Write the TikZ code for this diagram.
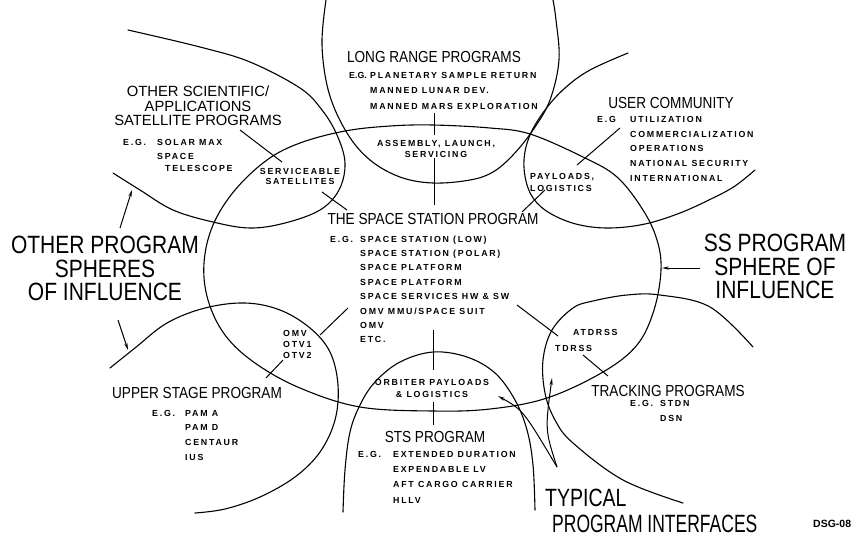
\documentclass[tikz,border=0pt]{standalone}
\usepackage{fontspec}
\setmainfont{Liberation Sans}
\newfontfamily\hvA[FakeStretch=0.85]{Liberation Sans}
\newfontfamily\hvB[FakeStretch=0.84]{Liberation Sans}
\newfontfamily\hvC[FakeStretch=0.70]{Liberation Sans}
\newfontfamily\hvD[FakeStretch=0.78]{Liberation Sans}
\newfontfamily\smf[LetterSpace=20]{Liberation Sans}
\usetikzlibrary{arrows.meta}
\tikzset{
  curve/.style={line width=1.1pt, line cap=round},
  tickline/.style={line width=1pt},
  arr/.style={line width=1pt, -{Stealth[length=7pt,width=3.2pt]}},
  head/.style={font=\hvA\fontsize{16}{16}\selectfont, inner sep=0pt, anchor=base},
  midtxt/.style={font=\fontsize{14.8}{14.5}\selectfont, inner sep=0pt, align=center, anchor=north},
  hugetxt/.style={font=\hvB\fontsize{25}{23.5}\selectfont, inner sep=0pt, align=center, anchor=north},
  sm/.style={font=\smf\bfseries\fontsize{8.8}{#1}\selectfont, inner sep=0pt, align=left, anchor=north west},
  sm/.default=14.6,
  smc/.style={font=\smf\bfseries\fontsize{8.8}{#1}\selectfont, inner sep=0pt, align=center, anchor=north},
  smc/.default=11.5,
  eg/.style={font=\smf\bfseries\fontsize{8.8}{10}\selectfont, inner sep=0pt, anchor=base west},
  egtight/.style={font=\bfseries\fontsize{8.8}{10}\selectfont, inner sep=0pt, anchor=base west},
}
\begin{document}
\begin{tikzpicture}[x=1pt,y=-1pt]
\useasboundingbox (0,0) rectangle (860,539);

% ---------- spheres of influence ----------
% Space Station program (central ellipse)
\draw[curve] plot[smooth cycle, tension=0.6] coordinates {(433,125) (490,128) (530,134) (583,157) (617,177) (643,210) (657,240) (661,270) (654,310) (637,345) (603,372) (547,398) (490,409) (433,411) (360,407) (300,388) (255,363) (225,335) (208,300) (204,263) (213,225) (235,190) (267,160) (300,143) (345,131) (390,126)};
% Long range programs
\draw[curve] plot[smooth, tension=0.6] coordinates {(326,0) (322,45) (329,93) (347,133) (370,160) (400,177) (433,183) (470,180) (493,172) (513,155) (533,130) (550,100) (559,60) (556,20) (553,0)};
% Other scientific / applications satellites
\draw[curve] plot[smooth, tension=0.6] coordinates {(128,30) (200,47) (250,62) (300,88) (322,110) (337,135) (345,163) (339,190) (320,210) (285,223) (250,228) (213,222) (173,210) (140,190) (113,173)};
% User community
\draw[curve] plot[smooth, tension=0.6] coordinates {(628,53) (590,70) (565,88) (545,110) (530,135) (524,160) (527,185) (537,203) (555,216) (580,225) (610,228) (645,224) (680,213) (713,198) (735,186) (755,170)};
% Upper stage program
\draw[curve] plot[smooth, tension=0.6] coordinates {(110,368) (135,348) (167,323) (205,308) (245,303) (280,310) (310,328) (330,352) (338,385) (335,420) (320,452) (295,477) (260,497) (225,509) (195,513)};
% STS program
\draw[curve] plot[smooth, tension=0.6] coordinates {(343,512) (345,470) (350,432) (360,405) (375,382) (400,362) (433,352) (467,357) (495,373) (515,400) (527,430) (533,465) (535,510)};
% Tracking programs
\draw[curve] plot[smooth, tension=0.6] coordinates {(753,347) (710,307) (660,295) (627,295) (593,301) (573,308) (552,330) (543,360) (545,393) (555,420) (573,443) (623,480) (683,503)};

% ---------- texts ----------
\node[head] (lrp) at (434,62.5) {LONG RANGE PROGRAMS};
\node[egtight] (lrpeg) at (349,78) {E.G.};
\node[sm=15.5] (lrplist) at (370,71.9) {PLANETARY SAMPLE RETURN\\MANNED LUNAR DEV.\\MANNED MARS EXPLORATION};
\node[smc=11.5] (alsv) at (436,140) {ASSEMBLY, LAUNCH,\\SERVICING};

\node[midtxt] (osa) at (198,85.6) {OTHER SCIENTIFIC/\\APPLICATIONS\\SATELLITE PROGRAMS};
\node[eg] (osaeg) at (123,145) {E.G.};
\node[eg] (osa1) at (157,145) {SOLAR MAX};
\node[eg] (osa2) at (157,159) {SPACE};
\node[eg] (osa3) at (165,171) {TELESCOPE};
\node[smc=10] (servsat) at (300,168) {SERVICEABLE\\SATELLITES};

\node[head] (uc) at (671,108.7) {USER COMMUNITY};
\node[eg] (uceg) at (597,122) {E.G};
\node[sm=14.75] (uclist) at (630,116) {UTILIZATION\\COMMERCIALIZATION\\OPERATIONS\\NATIONAL SECURITY\\INTERNATIONAL};
\node[sm=12] (paylog) at (530,173) {PAYLOADS,\\LOGISTICS};

\node[head] (ssp) at (433,224.7) {THE SPACE STATION PROGRAM};
\node[eg] (sspeg) at (330,242) {E.G.};
\node[sm=14.4] (ssplist) at (360,235.5) {SPACE STATION (LOW)\\SPACE STATION (POLAR)\\SPACE PLATFORM\\SPACE PLATFORM\\SPACE SERVICES HW \& SW\\OMV MMU/SPACE SUIT\\OMV\\ETC.};

\node[hugetxt] (opsi) at (105,236) {OTHER PROGRAM\\SPHERES\\OF INFLUENCE};
\node[hugetxt] (sssi) at (775,234) {SS PROGRAM\\SPHERE OF\\INFLUENCE};

\node[head] (usp) at (197,398.7) {UPPER STAGE PROGRAM};
\node[eg] (uspeg) at (152,416) {E.G.};
\node[sm=14.7] (usplist) at (185,410) {PAM A\\PAM D\\CENTAUR\\IUS};
\node[sm=11] (omv) at (283,330) {OMV\\OTV1\\OTV2};

\node[smc=12] (orb) at (432,379) {ORBITER PAYLOADS\\\& LOGISTICS};
\node[head] (sts) at (435,442.7) {STS PROGRAM};
\node[eg] (stseg) at (358,457) {E.G.};
\node[sm=15.3] (stslist) at (393,451) {EXTENDED DURATION\\EXPENDABLE LV\\AFT CARGO CARRIER\\HLLV};

\node[head] (trk) at (668,396.7) {TRACKING PROGRAMS};
\node[eg] (trkeg) at (630,406) {E.G.};
\node[sm=15] (trklist) at (660,400) {STDN\\DSN};
\node[eg] (atdrss) at (573,335) {ATDRSS};
\node[eg] (tdrss) at (555,351) {TDRSS};

\node[font=\hvD\fontsize{25}{25}\selectfont, inner sep=0pt, anchor=base west] (typ) at (545,506) {TYPICAL};
\node[font=\hvC\fontsize{25}{25}\selectfont, inner sep=0pt, anchor=base west] (pif) at (552,532) {PROGRAM INTERFACES};
\node[font=\bfseries\fontsize{10.5}{10.5}\selectfont, inner sep=0pt, anchor=base west] (dsg) at (813,527) {DSG-08};

% ---------- interface ticks ----------
\coordinate (t1a) at (240,130); \coordinate (t1b) at (282,162);
\coordinate (t2a) at (322,192); \coordinate (t2b) at (347,210);
\coordinate (t3a) at (434,113); \coordinate (t3b) at (434,135);
\coordinate (t4a) at (434,158); \coordinate (t4b) at (434,205);
\coordinate (t5a) at (620,128); \coordinate (t5b) at (577,165);
\coordinate (t6a) at (545,190); \coordinate (t6b) at (522,212);
\coordinate (t7a) at (433,330); \coordinate (t7b) at (433,370);
\coordinate (t8a) at (433,402); \coordinate (t8b) at (433,425);
\coordinate (t9a) at (348,308); \coordinate (t9b) at (320,335);
\coordinate (t10a) at (283,360); \coordinate (t10b) at (266,378);
\coordinate (t11a) at (517,305); \coordinate (t11b) at (558,336);
\coordinate (t12a) at (583,355); \coordinate (t12b) at (608,376);
\foreach \i in {1,...,12} \draw[tickline] (t\i a) -- (t\i b);

% ---------- arrows ----------
\coordinate (a1s) at (120,228); \coordinate (a1e) at (132,190);
\coordinate (a2s) at (118,320); \coordinate (a2e) at (128,350);
\coordinate (a3s) at (700,268); \coordinate (a3e) at (662,268);
\coordinate (a4s) at (557,467); \coordinate (a4m) at (523,410); \coordinate (a4e) at (498,396);
\coordinate (a5m) at (545,430); \coordinate (a5e) at (552,378);
\draw[arr] (a1s) -- (a1e);
\draw[arr] (a2s) -- (a2e);
\draw[arr] (a3s) -- (a3e);
\draw[arr] (a4s) .. controls (a4m) .. (a4e);
\draw[arr] (a4s) .. controls (a5m) .. (a5e);
\end{tikzpicture}
\end{document}
